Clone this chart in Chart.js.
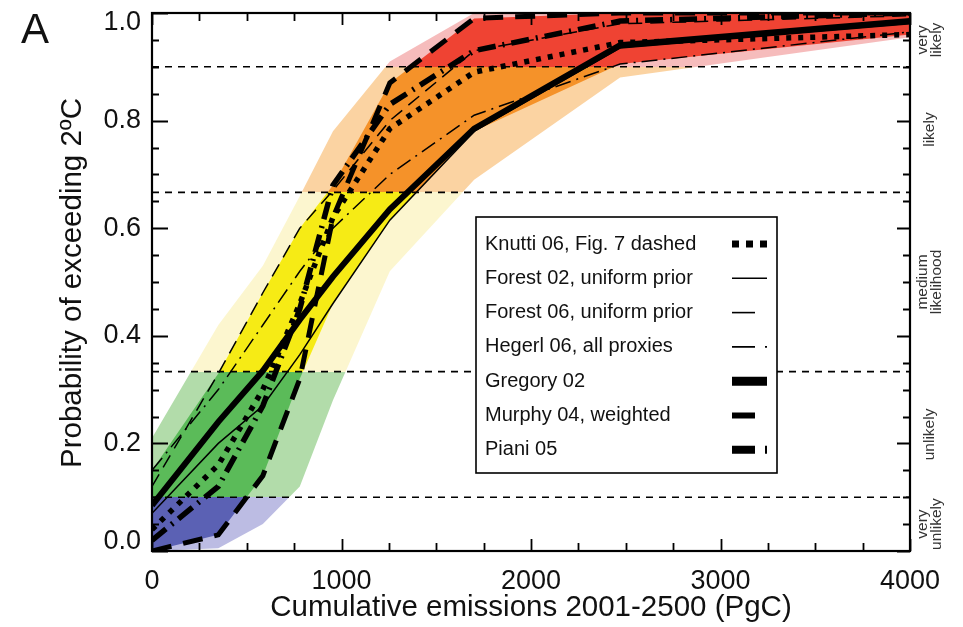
<!DOCTYPE html>
<html>
<head>
<meta charset="utf-8">
<script src="https://cdn.jsdelivr.net/npm/chart.js@4.4.0/dist/chart.umd.min.js"></script>
<style>
  html, body { margin: 0; padding: 0; background: #fff; }
  #wrap { width: 963px; height: 627px; }
</style>
</head>
<body>
<div id="wrap"><canvas id="chart" width="963" height="627"></canvas></div>
<script>
// Cumulative emissions 2001-2500 (PgC) at which each study's probability is given
const EMISSIONS = [0, 350, 585, 780, 955, 1255, 1700, 2470, 4000];

// Probability of exceeding 2 degC, one array per study
const KNUTTI_06   = [0.04, 0.16, 0.30, 0.46, 0.62, 0.785, 0.89, 0.945, 0.96];
const FOREST_02   = [0.07, 0.20, 0.27, 0.365, 0.46, 0.615, 0.78, 0.935, 0.98];
const FOREST_06   = [0.12, 0.33, 0.48, 0.60, 0.67, 0.80, 0.93, 0.98, 0.995];
const HEGERL_06   = [0.15, 0.30, 0.42, 0.52, 0.60, 0.70, 0.81, 0.905, 0.965];
const GREGORY_02  = [0.085, 0.24, 0.335, 0.43, 0.51, 0.635, 0.785, 0.94, 0.985];
const MURPHY_04   = [0.0, 0.03, 0.14, 0.32, 0.62, 0.87, 0.99, 1.0, 1.0];
const PIANI_05    = [0.02, 0.12, 0.27, 0.45, 0.68, 0.83, 0.93, 0.985, 1.0];

// Spread across the studies (saturated band) and wider uncertainty range (pale band)
const SPREAD_HIGH = [0.15, 0.33, 0.48, 0.60, 0.68, 0.87, 0.99, 1.0, 1.0];
const SPREAD_LOW  = [0.0, 0.03, 0.14, 0.32, 0.46, 0.615, 0.78, 0.905, 0.96];
const RANGE_HIGH  = [0.21, 0.42, 0.53, 0.66, 0.78, 0.91, 1.0, 1.0, 1.0];
const RANGE_LOW   = [0.0, 0.005, 0.05, 0.12, 0.28, 0.52, 0.69, 0.88, 0.955];

// Likelihood categories and their boundaries
const LIKELIHOOD_LIMITS = [0.1, 1 / 3, 2 / 3, 0.9];
const LIKELIHOOD_LABELS = [['very', 'unlikely'], ['unlikely'], ['medium', 'likelihood'], ['likely'], ['very', 'likely']];

// Axis ticks
const X_TICKS = [0, 1000, 2000, 3000, 4000];
const Y_TICKS = [0, 0.2, 0.4, 0.6, 0.8, 1.0];
const X_MINOR_STEP = 250;
const Y_MINOR_STEP = 0.05;

const FONT = "'Liberation Sans', Arial, Helvetica, sans-serif";

// Colours per likelihood category, lowest first
const SATURATED = ['#5b61b4', '#5bbb59', '#f6eb15', '#f59229', '#ef4333'];
const PALE = ['#bcbce3', '#b2dcaa', '#fcf6cf', '#fbd3a2', '#f6bcbc'];

const series = [
  { label: 'Knutti 06, Fig. 7 dashed', values: KNUTTI_06, width: 5.5, dash: [5, 7], sampleWidth: 7, sampleDash: [7, 7], sampleLen: 35 },
  { label: 'Forest 02, uniform prior', values: FOREST_02, width: 1.5, dash: [], sampleWidth: 1.6, sampleDash: [], sampleLen: 35 },
  { label: 'Forest 06, uniform prior', values: FOREST_06, width: 1.5, dash: [14, 8], sampleWidth: 1.6, sampleDash: [], sampleLen: 23 },
  { label: 'Hegerl 06, all proxies', values: HEGERL_06, width: 1.5, dash: [16, 6, 2, 6], sampleWidth: 1.6, sampleDash: [23, 10, 2, 10], sampleLen: 35 },
  { label: 'Gregory 02', values: GREGORY_02, width: 6, dash: [], sampleWidth: 9, sampleDash: [], sampleLen: 35 },
  { label: 'Murphy 04, weighted', values: MURPHY_04, width: 5, dash: [20, 12], sampleWidth: 6, sampleDash: [], sampleLen: 23 },
  { label: 'Piani 05', values: PIANI_05, width: 5.5, dash: [18, 7, 2, 7], sampleWidth: 8, sampleDash: [23, 10, 2, 10], sampleLen: 35 }
];

const toPoints = (values) => values.map((v, i) => ({ x: EMISSIONS[i], y: v }));

// Vertical gradient with hard colour changes at the likelihood boundaries
function bandFill(colors) {
  return (context) => {
    const chart = context.chart;
    const yScale = chart.scales && chart.scales.y;
    if (!chart.chartArea || !yScale) return colors[0];
    const g = chart.ctx.createLinearGradient(0, yScale.getPixelForValue(0), 0, yScale.getPixelForValue(1));
    const edges = [0, ...LIKELIHOOD_LIMITS, 1];
    colors.forEach((c, i) => {
      g.addColorStop(edges[i], c);
      g.addColorStop(edges[i + 1], c);
    });
    return g;
  };
}

const bandStyle = { borderWidth: 0, pointRadius: 0, tension: 0 };

const datasets = [
  { ...bandStyle, data: toPoints(RANGE_HIGH), fill: 1, backgroundColor: bandFill(PALE), order: 4 },
  { ...bandStyle, data: toPoints(RANGE_LOW), fill: false, order: 4 },
  { ...bandStyle, data: toPoints(SPREAD_HIGH), fill: 3, backgroundColor: bandFill(SATURATED), order: 3 },
  { ...bandStyle, data: toPoints(SPREAD_LOW), fill: false, order: 3 },
  ...LIKELIHOOD_LIMITS.map((p) => ({
    data: [{ x: 0, y: p }, { x: 4000, y: p }],
    borderColor: '#000', borderWidth: 1.6, borderDash: [7, 6], pointRadius: 0, fill: false, order: 2
  })),
  ...series.map((s) => ({
    label: s.label,
    data: toPoints(s.values),
    borderColor: '#000',
    borderWidth: s.width,
    borderDash: s.dash,
    borderCapStyle: 'butt',
    borderJoinStyle: 'miter',
    pointRadius: 0,
    tension: 0,
    fill: false,
    order: 1
  }))
];

// Frame, inward ticks, labels, likelihood names and the key box
const decorations = {
  id: 'decorations',
  afterDatasetsDraw(chart) {
    const { ctx, chartArea: a, scales: { x, y } } = chart;
    ctx.save();

    // inward tick marks on all four sides
    ctx.strokeStyle = '#000';
    ctx.lineWidth = 1.8;
    ctx.beginPath();
    for (let v = 0; v <= 4000 + 1e-6; v += X_MINOR_STEP) {
      const px = Math.round(x.getPixelForValue(v)) + 0.5;
      const len = X_TICKS.includes(v) ? 12 : 8;
      ctx.moveTo(px, a.bottom); ctx.lineTo(px, a.bottom - len);
      ctx.moveTo(px, a.top); ctx.lineTo(px, a.top + len);
    }
    for (let k = 0; k <= 20; k++) {
      const v = k * Y_MINOR_STEP;
      const py = Math.round(y.getPixelForValue(v)) + 0.5;
      const major = k % 4 === 0;
      ctx.moveTo(a.left, py); ctx.lineTo(a.left + (major ? 16 : 7), py);
      ctx.moveTo(a.right, py); ctx.lineTo(a.right - (major ? 13 : 7), py);
    }
    ctx.stroke();

    // frame
    ctx.lineWidth = 2.2;
    ctx.strokeRect(a.left, a.top, a.right - a.left, a.bottom - a.top);

    ctx.fillStyle = '#111';
    // x tick labels
    ctx.font = '27px ' + FONT;
    ctx.textAlign = 'center';
    ctx.textBaseline = 'alphabetic';
    X_TICKS.forEach((v) => ctx.fillText(String(v), x.getPixelForValue(v), a.bottom + 38));

    // y tick labels, end labels kept inside the frame height
    ctx.textAlign = 'right';
    ctx.textBaseline = 'middle';
    Y_TICKS.forEach((v) => {
      const py = Math.min(Math.max(y.getPixelForValue(v), a.top + 10), a.bottom - 9);
      ctx.fillText(v.toFixed(1), a.left - 11, py);
    });

    // axis titles
    ctx.font = '29.5px ' + FONT;
    ctx.textAlign = 'center';
    ctx.textBaseline = 'alphabetic';
    ctx.fillText('Cumulative emissions 2001-2500 (PgC)', (a.left + a.right) / 2, a.bottom + 65);
    ctx.save();
    ctx.translate(81, (a.top + a.bottom) / 2 + 1);
    ctx.rotate(-Math.PI / 2);
    ctx.fillText('Probability of exceeding 2ºC', 0, 0);
    ctx.restore();

    // panel letter
    ctx.textAlign = 'left';
    ctx.font = '42px ' + FONT;
    ctx.fillText('A', 21, 43);

    // likelihood names along the right edge
    ctx.font = '15.5px ' + FONT;
    ctx.fillStyle = '#333';
    ctx.textAlign = 'center';
    ctx.textBaseline = 'middle';
    const edges = [0, ...LIKELIHOOD_LIMITS, 1];
    LIKELIHOOD_LABELS.forEach((lines, i) => {
      const py = y.getPixelForValue((edges[i] + edges[i + 1]) / 2);
      ctx.save();
      ctx.translate(a.right + 20, py);
      ctx.rotate(-Math.PI / 2);
      lines.forEach((t, j) => ctx.fillText(t, 0, (j - (lines.length - 1) / 2) * 14));
      ctx.restore();
    });

    // key
    const box = { left: 476, top: 217, right: 777, bottom: 473 };
    ctx.fillStyle = '#fff';
    ctx.fillRect(box.left, box.top, box.right - box.left, box.bottom - box.top);
    ctx.strokeStyle = '#000';
    ctx.lineWidth = 1.6;
    ctx.strokeRect(box.left, box.top, box.right - box.left, box.bottom - box.top);
    ctx.font = '20px ' + FONT;
    ctx.textAlign = 'left';
    ctx.textBaseline = 'middle';
    series.forEach((s, i) => {
      const ry = 244 + i * 34.3;
      ctx.fillStyle = '#111';
      ctx.fillText(s.label, 485, ry);
      ctx.beginPath();
      ctx.setLineDash(s.sampleDash);
      ctx.lineCap = 'butt';
      ctx.lineWidth = s.sampleWidth;
      ctx.moveTo(732, ry);
      ctx.lineTo(732 + s.sampleLen, ry);
      ctx.stroke();
    });
    ctx.setLineDash([]);
    ctx.restore();
  }
};

new Chart(document.getElementById('chart'), {
  type: 'line',
  data: { datasets },
  options: {
    responsive: false,
    animation: false,
    events: [],
    layout: { padding: { left: 152, top: 13, right: 53, bottom: 76 } },
    scales: {
      x: { type: 'linear', min: 0, max: 4000, display: false },
      y: { type: 'linear', min: 0, max: 1, display: false }
    },
    plugins: {
      legend: { display: false },
      tooltip: { enabled: false }
    }
  },
  plugins: [decorations]
});
</script>
</body>
</html>
